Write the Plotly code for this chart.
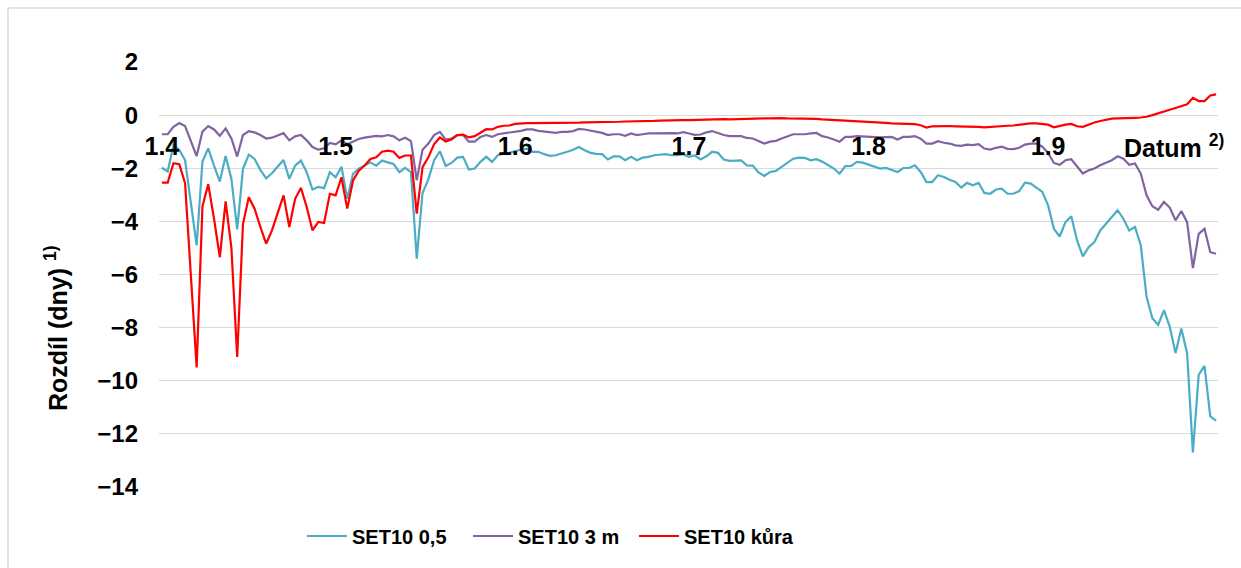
import pandas as pd
import plotly.graph_objects as go

start_date = "2023-04-01"

set10_05 = [
    -1.98, -2.12, -1.12, -1.31, -1.69, -3.4, -4.9, -1.75, -1.25, -1.9, -2.5, -1.54, -2.4, -4.3,
    -2.02, -1.49, -1.65, -2.06, -2.38, -2.19, -1.94, -1.69, -2.4, -1.9,
    -1.71, -2.15, -2.8, -2.7, -2.75, -2.15, -2.34, -1.94, -3.15, -2.21,
    -2.02, -1.9, -1.78, -1.9, -1.71, -1.78, -1.84, -2.15, -1.99, -2.15,
    -5.4, -2.93, -2.42, -1.7, -1.36, -1.91,
    -1.8, -1.6, -1.57, -2.05, -2.01, -1.76, -1.57, -1.76, -1.51, -1.45,
    -1.42, -1.35, -1.3, -1.26, -1.38, -1.38, -1.47, -1.53, -1.51, -1.45,
    -1.38, -1.3, -1.2, -1.32, -1.42, -1.46, -1.47, -1.67, -1.55, -1.55,
    -1.7, -1.57, -1.7, -1.6, -1.57, -1.51, -1.48, -1.47, -1.51, -1.51,
    -1.47, -1.57, -1.52, -1.67, -1.55, -1.38, -1.42, -1.67, -1.72, -1.71,
    -1.7, -1.89, -1.9, -2.16, -2.29, -2.14, -2.1, -1.95, -1.79, -1.64,
    -1.6, -1.61, -1.7, -1.66,
    -1.75, -1.89, -2.01, -2.2, -1.92, -1.91, -1.76, -1.79, -1.86, -1.95,
    -2.01, -1.99, -2.08, -2.14, -1.99, -1.99, -1.89, -2.14, -2.52, -2.52,
    -2.26, -2.33, -2.43, -2.52, -2.73, -2.55, -2.64, -2.55, -2.93, -2.96,
    -2.8, -2.77, -2.96, -2.96, -2.86, -2.54, -2.58, -2.73, -2.89, -3.4,
    -4.28, -4.57, -4.03, -3.81, -4.72, -5.32, -4.97, -4.78, -4.34, -4.09,
    -3.84, -3.58, -3.9, -4.34, -4.21, -4.9, -6.84, -7.65, -7.9, -7.34,
    -7.96, -8.96, -8.03, -8.96, -12.7, -9.78, -9.44, -11.34, -11.5,
]

set10_3m = [
    -0.72, -0.72, -0.44, -0.3, -0.41, -0.94, -1.54, -0.62, -0.41, -0.54, -0.78, -0.5, -0.88, -1.56,
    -0.75, -0.6, -0.65, -0.75, -0.88, -0.85, -0.75, -0.68, -0.95, -0.8,
    -0.75, -0.95, -1.2, -1.3, -1.25, -1.05, -1.1, -0.95, -1.1, -1.0,
    -0.9, -0.85, -0.82, -0.78, -0.8, -0.75, -0.8, -0.95, -0.85, -0.98, -2.45,
    -1.3, -1.07, -0.75, -0.63, -0.92, -0.88, -0.75, -0.75, -1.0, -1.0,
    -0.82, -0.75, -0.82, -0.72, -0.69, -0.67, -0.63, -0.59, -0.54, -0.54,
    -0.59, -0.62, -0.65, -0.67, -0.63, -0.63, -0.6, -0.52, -0.54, -0.59,
    -0.64, -0.67, -0.75, -0.72, -0.72, -0.78, -0.69, -0.75, -0.72, -0.69,
    -0.69, -0.68, -0.67, -0.68, -0.69, -0.64, -0.69, -0.74, -0.73, -0.65,
    -0.6, -0.67, -0.75, -0.79, -0.79, -0.79, -0.86, -0.88, -0.97, -1.07,
    -1.0, -0.97, -0.88, -0.79, -0.72, -0.72, -0.72, -0.69, -0.67,
    -0.79, -0.84, -0.92, -1.0, -0.82, -0.82, -0.79, -0.8, -0.82, -0.84,
    -0.84, -0.83, -0.82, -0.92, -0.82, -0.82, -0.79, -0.89, -1.07, -1.07,
    -0.98, -1.04, -1.07, -1.14, -1.16, -1.11, -1.13, -1.09, -1.26, -1.3,
    -1.23, -1.19, -1.27, -1.28, -1.23, -1.11, -1.07, -1.07, -1.19, -1.42,
    -1.8, -1.87, -1.7, -1.66, -1.92, -2.2, -2.08, -2.01, -1.89, -1.79,
    -1.7, -1.55, -1.64, -1.87, -1.82, -2.2, -3.02, -3.43, -3.56, -3.27,
    -3.48, -3.96, -3.61, -4.03, -5.76, -4.47, -4.28, -5.16, -5.22,
]

set10_kura = [
    -2.54, -2.54, -1.81, -1.85, -2.56, -6.0, -9.5, -3.44, -2.6, -3.9, -5.35, -3.25, -5.0, -9.1,
    -4.09, -3.09, -3.52, -4.21, -4.84, -4.34, -3.71, -3.02, -4.21, -3.15,
    -2.74, -3.46, -4.34, -4.02, -4.06, -2.96, -3.02, -2.34, -3.52, -2.46,
    -2.09, -1.9, -1.65, -1.59, -1.38, -1.34, -1.38, -1.61, -1.52, -1.52,
    -3.71, -1.96, -1.59, -1.09, -0.84, -0.99,
    -0.92, -0.75, -0.73, -0.84, -0.79, -0.65, -0.53, -0.54, -0.44, -0.4, -0.39, -0.33, -0.31, -0.3,
    -0.3, -0.3, -0.3, -0.29, -0.29, -0.28, -0.29, -0.28, -0.28, -0.27,
    -0.27, -0.27, -0.26, -0.26, -0.25, -0.25, -0.24, -0.24, -0.23, -0.23,
    -0.22, -0.22, -0.21, -0.2, -0.2, -0.2, -0.19, -0.19, -0.18, -0.17,
    -0.17, -0.16, -0.16, -0.15, -0.16, -0.15, -0.14, -0.14, -0.13, -0.13,
    -0.12, -0.12, -0.11, -0.11, -0.12, -0.12, -0.13, -0.13, -0.14,
    -0.14, -0.16, -0.17, -0.19, -0.2, -0.22, -0.23, -0.23, -0.24, -0.25,
    -0.26, -0.27, -0.29, -0.31, -0.32, -0.32, -0.33, -0.34, -0.38, -0.47,
    -0.42, -0.41, -0.4, -0.41, -0.42, -0.42, -0.42, -0.42, -0.44, -0.46,
    -0.44, -0.42, -0.41, -0.4, -0.39, -0.36, -0.34, -0.31, -0.31, -0.33,
    -0.36, -0.46, -0.4, -0.36, -0.33, -0.42, -0.44, -0.35, -0.28, -0.22,
    -0.17, -0.13, -0.12, -0.12, -0.11, -0.1, -0.09, -0.06, 0.0, 0.06,
    0.12, 0.2, 0.27, 0.33, 0.41, 0.65, 0.53, 0.53, 0.74, 0.78,
]

series_names = ["SET10 0,5", "SET10 3 m", "SET10 kůra"]
series_colors = ["#4BACC6", "#8064A2", "#FF0000"]

tick_dates = ["2023-04-01", "2023-05-01", "2023-06-01", "2023-07-01", "2023-08-01", "2023-09-01"]
tick_labels = ["1.4", "1.5", "1.6", "1.7", "1.8", "1.9"]
y_ticks = [2, 0, -2, -4, -6, -8, -10, -12, -14]

y_title = "Rozdíl (dny) <sup>1)</sup>"
x_title = "Datum <sup>2)</sup>"

FONT = "Arial, 'Liberation Sans', sans-serif"

fig = go.Figure()
for name, color, vals in zip(series_names, series_colors, [set10_05, set10_3m, set10_kura]):
    dates = pd.date_range(start_date, periods=len(vals), freq="D")
    fig.add_trace(go.Scatter(x=dates, y=vals, mode="lines", name=name,
                             line=dict(color=color, width=2.2)))

n = max(len(set10_05), len(set10_3m), len(set10_kura))
d0 = pd.Timestamp(start_date)
x_range = [d0 - pd.Timedelta(hours=12), d0 + pd.Timedelta(days=n - 1, hours=8)]

W, H = 1241, 568
ml, mr, mt, mb = 159, 23, 62, 81
pw, ph = W - ml - mr, H - mt - mb

def px_x(p):
    return (p - ml) / pw

def px_y(p):
    return (H - mb - p) / ph

fig.update_layout(
    width=W, height=H,
    margin=dict(l=ml, r=mr, t=mt, b=mb),
    plot_bgcolor="white", paper_bgcolor="white",
    font=dict(family=FONT, size=20, color="black", weight="bold"),
    showlegend=True,
    legend=dict(orientation="h", x=px_x(302), xanchor="left", y=px_y(536), yanchor="middle",
                font=dict(family=FONT, size=20, color="black", weight="bold"),
                itemwidth=40, entrywidth=111, entrywidthmode="pixels",
                traceorder="normal", bgcolor="rgba(0,0,0,0)"),
    xaxis=dict(type="date", range=x_range, tickvals=tick_dates, ticktext=tick_labels,
               showgrid=False, showline=False, zeroline=False, ticks="",
               anchor="free", position=(0 - y_ticks[-1]) / (y_ticks[0] - y_ticks[-1]),
               ticklabelstandoff=14,
               tickfont=dict(family=FONT, size=25, color="black", weight="bold")),
    yaxis=dict(range=[y_ticks[-1], y_ticks[0]], tickvals=y_ticks, showgrid=True,
               gridcolor="#D9D9D9", gridwidth=1.3, zeroline=True, zerolinecolor="#D9D9D9",
               zerolinewidth=1.3, showline=False, ticks="", ticklabelstandoff=20,
               tickfont=dict(family=FONT, size=24, color="black", weight="bold")),
    annotations=[
        dict(text=y_title, xref="paper", yref="paper", x=px_x(56), y=px_y(328),
             textangle=-90, showarrow=False, xanchor="center", yanchor="middle",
             font=dict(family=FONT, size=25, color="black", weight="bold")),
        dict(text=x_title, xref="paper", yref="paper", x=px_x(1122), y=px_y(146),
             showarrow=False, xanchor="left", yanchor="middle",
             font=dict(family=FONT, size=25, color="black", weight="bold")),
    ],
    shapes=[
        dict(type="line", xref="paper", yref="paper", x0=px_x(8), x1=px_x(8),
             y0=px_y(8), y1=px_y(H + 5), line=dict(color="#D9D9D9", width=1.5)),
        dict(type="line", xref="paper", yref="paper", x0=px_x(8), x1=px_x(W + 5),
             y0=px_y(8), y1=px_y(8), line=dict(color="#D9D9D9", width=1.5)),
    ],
)

fig.write_html("out.html", config={"displayModeBar": False},
               post_script="document.body.style.margin='0';")
